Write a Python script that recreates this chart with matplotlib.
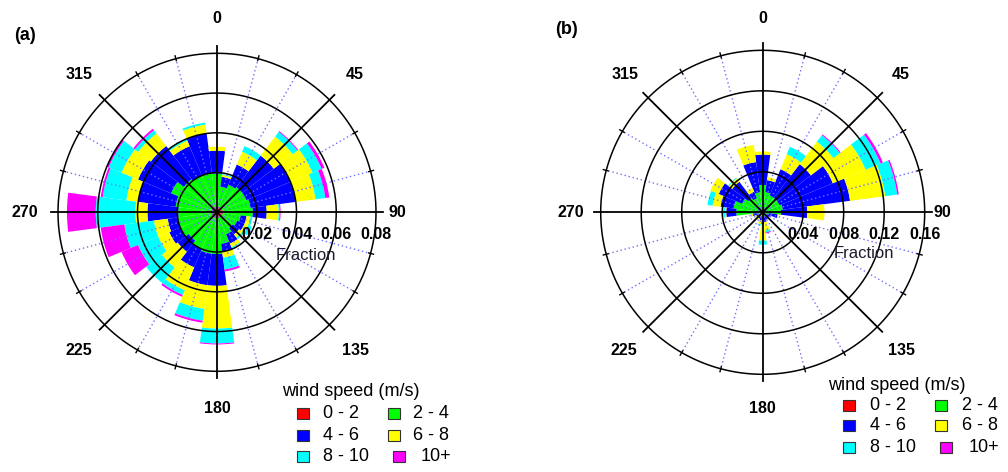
import numpy as np
import matplotlib
matplotlib.use("Agg")
import matplotlib.pyplot as plt
from matplotlib.patches import Rectangle
from matplotlib.transforms import offset_copy

plt.rcParams['font.family'] = ['Liberation Sans', 'DejaVu Sans']

W, H = 1008, 472

directions = list(range(0, 360, 15))
speed_labels = ['0 - 2', '2 - 4', '4 - 6', '6 - 8', '8 - 10', '10+']
speed_colors = ['#ff0000', '#00ff00', '#0000ff', '#ffff00', '#00ffff', '#ff00ff']

# ---- panel (a): fraction per direction for each speed class ----
a_0_2 = [.003] * 24
a_2_4 = [.0165, .010, .012, .013, .013, .014, .015, .009, .008, .007, .009, .013,
         .018, .018, .017, .015, .017, .017, .0165, .018, .022, .018, .017, .017]
a_4_6 = [.0115, .005, .011, .020, .024, .023, .007, .003, .004, .004, .005, .004,
         .016, .016, .010, .007, .006, .005, .0155, .019, .018, .021, .016, .020]
a_6_8 = [.002, .001, .007, .012, .012, .010, .006, .002, .002, .002, .002, .003,
         .0215, .012, .0125, .010, .006, .007, .006, .006, .009, .008, .003, .0045]
a_8_10 = [0, .0005, .003, .003, .005, .005, .0005, .001, .002, .001, .0005, .006,
          .0075, .006, .0025, .010, .011, .015, .020, .012, .007, .002, .001, .001]
a_10p = [0, 0, 0, .0005, .0015, .002, .0005, 0, 0, 0, 0, .001,
         .0005, .001, .001, 0, .009, .012, .0145, .001, .001, .001, 0, 0]

# ---- panel (b) ----
b_0_2 = [.003, .003, .003, .003, .003, .003, .003, .002, .002, .002, .002, .002,
         .002, .002, .002, .002, .002, .002, .003, .003, .003, .003, .003, .003]
b_2_4 = [.024, .017, .015, .015, .015, .017, .015, .004, .002, .002, .002, .002,
         .003, .002, .002, .002, .003, .004, .023, .026, .019, .015, .012, .017]
b_4_6 = [.030, .012, .028, .042, .057, .067, .026, .009, .004, .002, .004, .006,
         .007, .004, .003, .002, .002, .004, .010, .013, .025, .020, .007, .030]
b_6_8 = [.003, .003, .016, .028, .035, .035, .017, .001, 0, 0, 0, .008,
         .016, .004, .001, 0, .001, .001, .001, .008, .009, .004, .004, .017]
b_8_10 = [0, 0, .008, .008, .016, .012, 0, 0, 0, 0, 0, .002,
          .004, .001, 0, 0, 0, .001, .002, .005, 0, .001, 0, 0]
b_10p = [0, 0, 0, .001, .0025, .0015, 0, 0, 0, 0, 0, .001,
         0, 0, 0, 0, 0, 0, 0, 0, 0, 0, 0, 0]

a_rings = [0.02, 0.04, 0.06, 0.08]
b_rings = [0.04, 0.08, 0.12, 0.16]
a_ring_labels = ['0.02', '0.04', '0.06', '0.08']
b_ring_labels = ['0.04', '0.08', '0.12', '0.16']
angle_labels = ['0', '45', '90', '135', '180', '225', '270', '315']

fig = plt.figure(figsize=(W / 100, H / 100), dpi=100)


def rose(cx, cy, R, classes, rings, ring_labels, frac_off):
    rmax = rings[-1]
    ax = fig.add_axes([(cx - R) / W, 1 - (cy + R) / H, 2 * R / W, 2 * R / H],
                      projection='polar')
    ax.set_theta_zero_location('N')
    ax.set_theta_direction(-1)
    ax.set_ylim(0, rmax)
    ax.set_axis_off()
    th = np.deg2rad(directions)
    width = np.deg2rad(15)
    bottom = np.zeros(len(directions))
    for vals, col in zip(classes, speed_colors):
        v = np.array(vals)
        ax.bar(th, v, width=width, bottom=bottom, color=col, linewidth=0,
               align='center', zorder=2)
        bottom = bottom + v
    px = rmax / R  # data units per pixel
    full = np.linspace(0, 2 * np.pi, 400)
    for r in rings:
        ax.plot(full, np.full_like(full, r), color='black', lw=1.1, zorder=5,
                clip_on=False)
    for ang in range(0, 360, 15):
        t = np.deg2rad(ang)
        if ang % 45 == 0:
            ax.plot([t, t], [0, rmax + 7 * px], color='black', lw=1.3, zorder=6,
                    clip_on=False)
        else:
            ax.plot([t, t], [0, rmax], color='#6f6fff', lw=1.0,
                    linestyle=(0, (1, 2)), zorder=4, clip_on=False)
            ax.plot([t, t], [rmax - 2 * px, rmax + 3 * px], color='black', lw=1.0,
                    zorder=6, clip_on=False)
    lab_r = {0: 194, 45: 195, 90: 180, 135: 196, 180: 196, 225: 196, 270: 192, 315: 195}
    for lab in angle_labels:
        a = int(lab)
        ax.text(np.deg2rad(a), lab_r[a] * px, lab, ha='center', va='center',
                fontsize=11.5, fontweight='bold', clip_on=False)
    tr = offset_copy(ax.transData, fig=fig, x=0, y=-22, units='dots')
    for r, lab in zip(rings, ring_labels):
        ax.text(np.pi / 2, r, lab, transform=tr, ha='center', va='center',
                fontsize=11.5, fontweight='bold', clip_on=False, zorder=7)
    tr2 = offset_copy(ax.transData, fig=fig, x=frac_off[0], y=-frac_off[1],
                      units='dots')
    ax.text(0, 0, 'Fraction', transform=tr2, ha='center', va='center',
            fontsize=12, color='#1a1a2a', clip_on=False, zorder=7)
    return ax


rose(217, 212.3, 159, [a_0_2, a_2_4, a_4_6, a_6_8, a_8_10, a_10p],
     a_rings, a_ring_labels, (88.5, 43.5))
rose(762.7, 212.3, 162, [b_0_2, b_2_4, b_4_6, b_6_8, b_8_10, b_10p],
     b_rings, b_ring_labels, (101, 41))


def legend(title_x, title_y, rows_y, col1_sq, col1_tx, col2_sq, col2_tx):
    fig.text(title_x / W, 1 - title_y / H, 'wind speed (m/s)', ha='left',
             va='center', fontsize=13)
    order = [(0, 0), (1, 1), (2, 0), (3, 1), (4, 0), (5, 1)]
    for i, (k, col) in enumerate(order):
        row = i // 2
        y = rows_y[row]
        if col == 0:
            sx, tx = col1_sq, col1_tx
        else:
            sx, tx = col2_sq, col2_tx
            if k == 5:
                sx, tx = sx + 5, tx + 7
        fig.add_artist(Rectangle((sx / W, 1 - (y + 5.5) / H), 12 / W, 11 / H,
                                 transform=fig.transFigure,
                                 facecolor=speed_colors[k], edgecolor='#333333',
                                 lw=0.8))
        fig.text(tx / W, 1 - y / H, speed_labels[k], ha='left', va='center',
                 fontsize=13)


legend(281.7, 391.7, [413.3, 435, 456.7], 297, 323.3, 388.3, 413.3)
legend(828.3, 385, [405.8, 425.8, 447.5], 843.3, 870, 935, 961.7)

fig.text(25 / W, 1 - 35.5 / H, '(a)', ha='center', va='center', fontsize=13,
         fontweight='bold')
fig.text(566 / W, 1 - 30 / H, '(b)', ha='center', va='center', fontsize=13,
         fontweight='bold')

fig.savefig('out.png', dpi=100)
